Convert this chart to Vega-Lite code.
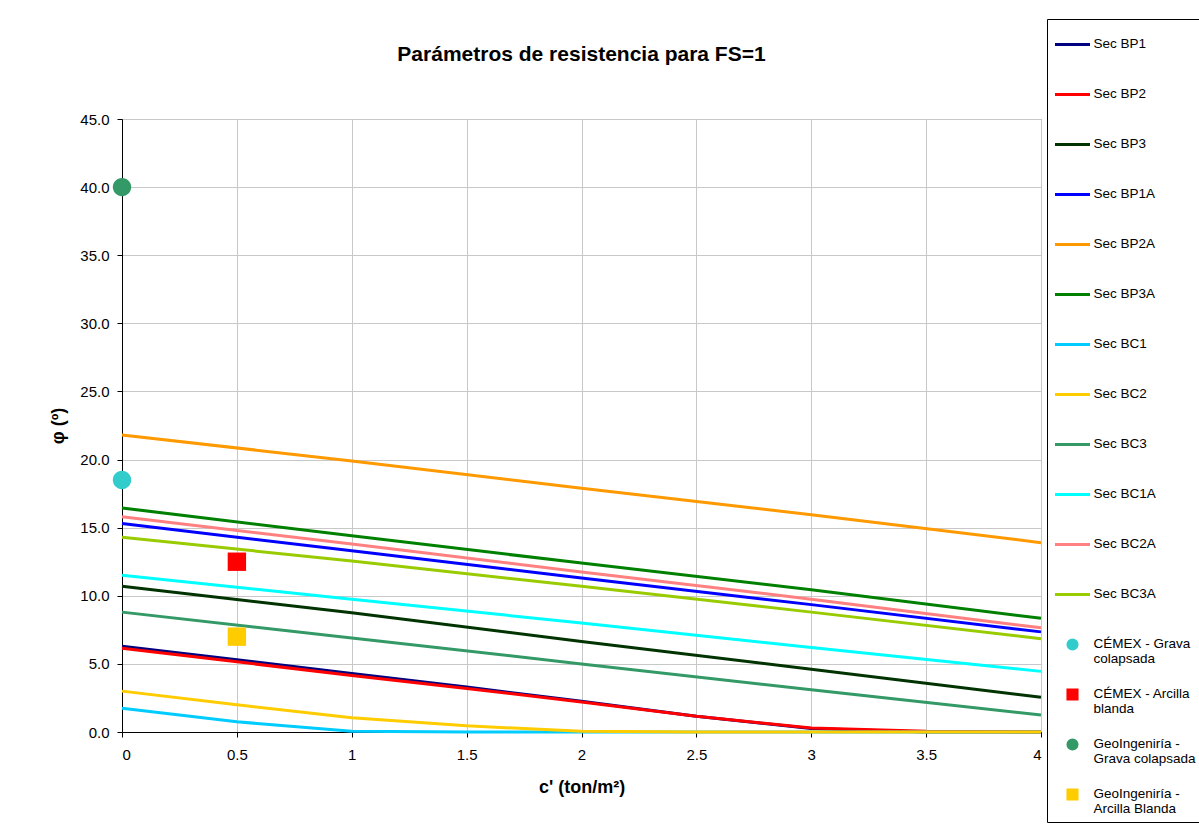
{
  "$schema": "https://vega.github.io/schema/vega-lite/v6.json",
  "width": 919,
  "height": 613,
  "padding": {"left": 49, "top": 18, "right": 0, "bottom": 5},
  "background": "white",
  "title": {"text": "Parámetros de resistencia para FS=1", "font": "Liberation Sans", "fontSize": 21, "fontWeight": "bold", "color": "black", "anchor": "middle", "frame": "group", "offset": 0, "dy": 46},
  "config": {
    "view": {"stroke": "#808080", "strokeWidth": 1},
    "axis": {"labelFont": "Liberation Sans", "labelFontSize": 15, "labelColor": "black", "titleFont": "Liberation Sans", "titleFontSize": 18, "titleFontWeight": "bold", "titleColor": "black", "domainColor": "black", "tickColor": "black", "tickSize": 5, "gridColor": "#c8c8c8", "gridWidth": 1}
  },
  "datasets": {
    "lines": [
      {"s": "Sec BP1", "c": 0, "phi": 6.3}, {"s": "Sec BP1", "c": 0.5, "phi": 5.3}, {"s": "Sec BP1", "c": 1, "phi": 4.3}, {"s": "Sec BP1", "c": 1.5, "phi": 3.3}, {"s": "Sec BP1", "c": 2, "phi": 2.25}, {"s": "Sec BP1", "c": 2.5, "phi": 1.15}, {"s": "Sec BP1", "c": 3, "phi": 0.25}, {"s": "Sec BP1", "c": 3.5, "phi": 0}, {"s": "Sec BP1", "c": 4, "phi": 0},
      {"s": "Sec BP2", "c": 0, "phi": 6.15}, {"s": "Sec BP2", "c": 0.5, "phi": 5.15}, {"s": "Sec BP2", "c": 1, "phi": 4.15}, {"s": "Sec BP2", "c": 1.5, "phi": 3.2}, {"s": "Sec BP2", "c": 2, "phi": 2.2}, {"s": "Sec BP2", "c": 2.5, "phi": 1.15}, {"s": "Sec BP2", "c": 3, "phi": 0.3}, {"s": "Sec BP2", "c": 3.5, "phi": 0.05}, {"s": "Sec BP2", "c": 4, "phi": 0},
      {"s": "Sec BP3", "c": 0, "phi": 10.7}, {"s": "Sec BP3", "c": 1, "phi": 8.75}, {"s": "Sec BP3", "c": 2, "phi": 6.65}, {"s": "Sec BP3", "c": 3, "phi": 4.6}, {"s": "Sec BP3", "c": 4, "phi": 2.55},
      {"s": "Sec BP1A", "c": 0, "phi": 15.3}, {"s": "Sec BP1A", "c": 1, "phi": 13.3}, {"s": "Sec BP1A", "c": 2, "phi": 11.3}, {"s": "Sec BP1A", "c": 3, "phi": 9.35}, {"s": "Sec BP1A", "c": 4, "phi": 7.35},
      {"s": "Sec BP2A", "c": 0, "phi": 21.8}, {"s": "Sec BP2A", "c": 1, "phi": 19.9}, {"s": "Sec BP2A", "c": 2, "phi": 17.9}, {"s": "Sec BP2A", "c": 3, "phi": 15.95}, {"s": "Sec BP2A", "c": 4, "phi": 13.9},
      {"s": "Sec BP3A", "c": 0, "phi": 16.45}, {"s": "Sec BP3A", "c": 1, "phi": 14.4}, {"s": "Sec BP3A", "c": 2, "phi": 12.4}, {"s": "Sec BP3A", "c": 3, "phi": 10.45}, {"s": "Sec BP3A", "c": 4, "phi": 8.35},
      {"s": "Sec BC1", "c": 0, "phi": 1.75}, {"s": "Sec BC1", "c": 0.5, "phi": 0.75}, {"s": "Sec BC1", "c": 1, "phi": 0.05}, {"s": "Sec BC1", "c": 1.5, "phi": 0}, {"s": "Sec BC1", "c": 2, "phi": 0}, {"s": "Sec BC1", "c": 2.5, "phi": 0}, {"s": "Sec BC1", "c": 3, "phi": 0}, {"s": "Sec BC1", "c": 3.5, "phi": 0}, {"s": "Sec BC1", "c": 4, "phi": 0},
      {"s": "Sec BC2", "c": 0, "phi": 3.0}, {"s": "Sec BC2", "c": 0.5, "phi": 2.0}, {"s": "Sec BC2", "c": 1, "phi": 1.05}, {"s": "Sec BC2", "c": 1.5, "phi": 0.45}, {"s": "Sec BC2", "c": 2, "phi": 0.05}, {"s": "Sec BC2", "c": 2.5, "phi": 0}, {"s": "Sec BC2", "c": 3, "phi": 0}, {"s": "Sec BC2", "c": 3.5, "phi": 0}, {"s": "Sec BC2", "c": 4, "phi": 0},
      {"s": "Sec BC3", "c": 0, "phi": 8.8}, {"s": "Sec BC3", "c": 1, "phi": 6.9}, {"s": "Sec BC3", "c": 2, "phi": 5.0}, {"s": "Sec BC3", "c": 3, "phi": 3.1}, {"s": "Sec BC3", "c": 4, "phi": 1.25},
      {"s": "Sec BC1A", "c": 0, "phi": 11.5}, {"s": "Sec BC1A", "c": 1, "phi": 9.75}, {"s": "Sec BC1A", "c": 2, "phi": 8.0}, {"s": "Sec BC1A", "c": 3, "phi": 6.2}, {"s": "Sec BC1A", "c": 4, "phi": 4.45},
      {"s": "Sec BC2A", "c": 0, "phi": 15.8}, {"s": "Sec BC2A", "c": 1, "phi": 13.8}, {"s": "Sec BC2A", "c": 2, "phi": 11.75}, {"s": "Sec BC2A", "c": 3, "phi": 9.75}, {"s": "Sec BC2A", "c": 4, "phi": 7.65},
      {"s": "Sec BC3A", "c": 0, "phi": 14.3}, {"s": "Sec BC3A", "c": 1, "phi": 12.55}, {"s": "Sec BC3A", "c": 2, "phi": 10.7}, {"s": "Sec BC3A", "c": 3, "phi": 8.8}, {"s": "Sec BC3A", "c": 4, "phi": 6.85}
    ],
    "pts": [
      {"s": "CÉMEX - Grava colapsada", "c": 0, "phi": 18.5},
      {"s": "CÉMEX - Arcilla blanda", "c": 0.5, "phi": 12.5},
      {"s": "GeoIngeniría - Grava colapsada", "c": 0, "phi": 40.0},
      {"s": "GeoIngeniría - Arcilla Blanda", "c": 0.5, "phi": 7.0}
    ]
  },
  "encoding": {
    "x": {"field": "c", "type": "quantitative", "scale": {"domain": [0, 4], "nice": false, "zero": false},
      "axis": {"title": "c' (ton/m²)", "values": [0, 0.5, 1, 1.5, 2, 2.5, 3, 3.5, 4], "format": "~g", "labelPadding": 10, "titlePadding": 16}},
    "y": {"field": "phi", "type": "quantitative", "scale": {"domain": [0, 45], "nice": false},
      "axis": {"title": "φ (º)", "values": [0, 5, 10, 15, 20, 25, 30, 35, 40, 45], "format": ".1f", "labelPadding": 8, "titlePadding": 12}},
    "color": {"field": "s", "type": "nominal",
      "scale": {
        "domain": ["Sec BP1", "Sec BP2", "Sec BP3", "Sec BP1A", "Sec BP2A", "Sec BP3A", "Sec BC1", "Sec BC2", "Sec BC3", "Sec BC1A", "Sec BC2A", "Sec BC3A", "CÉMEX - Grava colapsada", "CÉMEX - Arcilla blanda", "GeoIngeniría - Grava colapsada", "GeoIngeniría - Arcilla Blanda"],
        "range": ["#000080", "#FF0000", "#003300", "#0000FF", "#FF9900", "#008000", "#00CCFF", "#FFCC00", "#339966", "#00FFFF", "#FF8080", "#99CC00", "#33CCCC", "#FF0000", "#339966", "#FFCC00"]
      },
      "legend": {
        "orient": "none", "legendX": 925, "legendY": -100, "title": null,
        "strokeColor": "black", "fillColor": "white", "padding": 6.5,
        "rowPadding": 10, "gridAlign": "all", "symbolSize": 1225,
        "labelFont": "Liberation Sans", "labelFontSize": 13.5, "labelColor": "black", "labelOffset": 2, "labelLimit": 200, "labelBaseline": "top",
        "labelExpr": "datum.label == 'CÉMEX - Grava colapsada' ? ['CÉMEX - Grava', 'colapsada'] : datum.label == 'CÉMEX - Arcilla blanda' ? ['CÉMEX - Arcilla', 'blanda'] : datum.label == 'GeoIngeniría - Grava colapsada' ? ['GeoIngeniría -', 'Grava colapsada'] : datum.label == 'GeoIngeniría - Arcilla Blanda' ? ['GeoIngeniría -', 'Arcilla Blanda'] : datum.label",
        "encode": {
          "labels": {"update": {"dy": {"value": -8}}},
          "symbols": {"update": {
            "shape": {"scale": "shape", "field": "value"},
            "stroke": {"scale": "color", "field": "value"},
            "fill": {"scale": "color", "field": "value"},
            "strokeWidth": {"value": 3},
            "opacity": {"value": 1}
          }}
        }
      }
    }
  },
  "layer": [
    {
      "data": {"name": "lines"},
      "mark": {"type": "line", "strokeWidth": 3},
      "encoding": {}
    },
    {
      "data": {"name": "pts"},
      "mark": {"type": "point", "filled": true, "opacity": 1, "strokeWidth": 0, "size": 5000},
      "encoding": {
        "shape": {"field": "s", "type": "nominal",
          "scale": {
            "domain": ["Sec BP1", "Sec BP2", "Sec BP3", "Sec BP1A", "Sec BP2A", "Sec BP3A", "Sec BC1", "Sec BC2", "Sec BC3", "Sec BC1A", "Sec BC2A", "Sec BC3A", "CÉMEX - Grava colapsada", "CÉMEX - Arcilla blanda", "GeoIngeniría - Grava colapsada", "GeoIngeniría - Arcilla Blanda"],
            "range": ["M-1,0L1,0", "M-1,0L1,0", "M-1,0L1,0", "M-1,0L1,0", "M-1,0L1,0", "M-1,0L1,0", "M-1,0L1,0", "M-1,0L1,0", "M-1,0L1,0", "M-1,0L1,0", "M-1,0L1,0", "M-1,0L1,0",
              "M0.26,0A0.26,0.26,0,1,1,-0.26,0A0.26,0.26,0,1,1,0.26,0Z",
              "M-0.26,-0.26L0.26,-0.26L0.26,0.26L-0.26,0.26Z",
              "M0.26,0A0.26,0.26,0,1,1,-0.26,0A0.26,0.26,0,1,1,0.26,0Z",
              "M-0.26,-0.26L0.26,-0.26L0.26,0.26L-0.26,0.26Z"]
          },
          "legend": {
            "orient": "none", "legendX": 925, "legendY": -100, "title": null,
            "strokeColor": "black", "fillColor": "white", "padding": 6.5,
            "rowPadding": 10, "gridAlign": "all", "symbolSize": 1225,
            "labelFont": "Liberation Sans", "labelFontSize": 13.5, "labelColor": "black", "labelOffset": 2, "labelLimit": 200, "labelBaseline": "top"
          }
        }
      }
    }
  ]
}
